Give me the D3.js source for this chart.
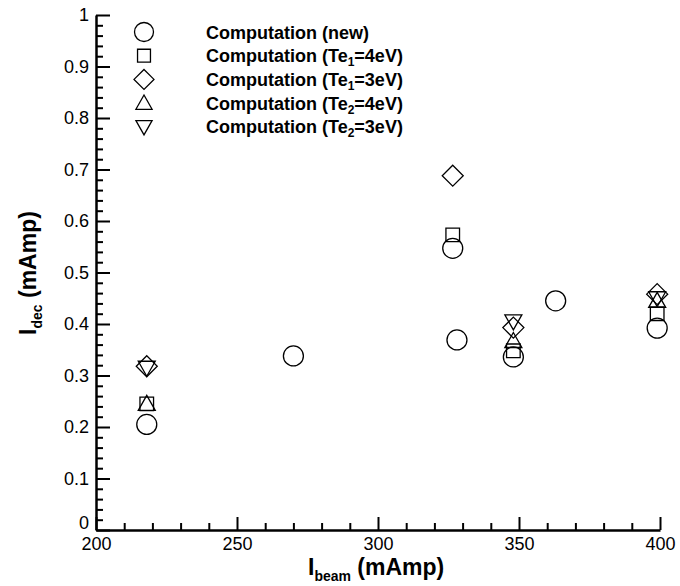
<!DOCTYPE html>
<html>
<head>
<meta charset="utf-8">
<script src="https://cdn.jsdelivr.net/npm/d3@7"></script>
<style>
  body { margin: 0; background: #fff; }
  svg { display: block; font-family: "Liberation Sans", Arial, sans-serif; }
</style>
</head>
<body>
<div id="chart"></div>
<script>
// data (x = I_beam mAmp, y = I_dec mAmp)
var newX   = [218, 270, 326.5, 328, 348, 363, 399];
var newY   = [0.205, 0.338, 0.547, 0.369, 0.336, 0.445, 0.392];
var te1_4X = [218, 326.5, 348, 399];
var te1_4Y = [0.245, 0.573, 0.348, 0.42];
var te1_3X = [218, 326.5, 348, 399];
var te1_3Y = [0.318, 0.688, 0.393, 0.458];
var te2_4X = [218, 348, 399];
var te2_4Y = [0.245, 0.367, 0.445];
var te2_3X = [218, 348, 399];
var te2_3Y = [0.315, 0.405, 0.45];

var xTicks = [200, 250, 300, 350, 400];
var yTicks = [0, 0.1, 0.2, 0.3, 0.4, 0.5, 0.6, 0.7, 0.8, 0.9, 1];
var yTickLabels = ['0', '0.1', '0.2', '0.3', '0.4', '0.5', '0.6', '0.7', '0.8', '0.9', '1'];

var width = 680, height = 586;
var svg = d3.select('#chart').append('svg').attr('width', width).attr('height', height);

var x = d3.scaleLinear().domain([200, 400]).range([96, 660]);
var y = d3.scaleLinear().domain([0, 1]).range([530, 15]);

// marker shapes, r ~ half size
var shapes = {
  circle: function(r){ var p = d3.path(); p.arc(0, 0, r, 0, 2 * Math.PI); return p.toString(); },
  square: function(r){ r = r * 0.68; return 'M' + (-r) + ',' + (-r) + 'H' + r + 'V' + r + 'H' + (-r) + 'Z'; },
  diamond: function(r){ r = r * 1.05; return 'M0,' + (-r) + 'L' + r + ',0L0,' + r + 'L' + (-r) + ',0Z'; },
  up: function(r){ var w = r * 0.85; return 'M0,' + (-r * 0.85) + 'L' + w + ',' + (r * 0.65) + 'H' + (-w) + 'Z'; },
  down: function(r){ var w = r * 0.85; return 'M0,' + (r * 0.85) + 'L' + w + ',' + (-r * 0.65) + 'H' + (-w) + 'Z'; }
};

var series = [
  {name: 'new', xs: newX, ys: newY, shape: 'circle', label: [['Computation (new)', '']]},
  {name: 'te1_4', xs: te1_4X, ys: te1_4Y, shape: 'square', label: [['Computation (Te', ''], ['1', 'sub'], ['=4eV)', '']]},
  {name: 'te1_3', xs: te1_3X, ys: te1_3Y, shape: 'diamond', label: [['Computation (Te', ''], ['1', 'sub'], ['=3eV)', '']]},
  {name: 'te2_4', xs: te2_4X, ys: te2_4Y, shape: 'up', label: [['Computation (Te', ''], ['2', 'sub'], ['=4eV)', '']]},
  {name: 'te2_3', xs: te2_3X, ys: te2_3Y, shape: 'down', label: [['Computation (Te', ''], ['2', 'sub'], ['=3eV)', '']]}
];

// axes: ticks point inward
var xAxis = d3.axisBottom(x).tickValues(xTicks).tickSizeInner(-13).tickSizeOuter(0).tickPadding(7);
var yAxis = d3.axisLeft(y).tickValues(yTicks).tickSizeInner(-14).tickSizeOuter(0).tickPadding(7)
  .tickFormat(function(d, i){ return yTickLabels[i]; });

var xMinor = d3.range(200, 401, 10).filter(function(d){ return d % 50 !== 0; });
var yMinor = d3.range(0, 51).map(function(i){ return i * 0.02; }).filter(function(d){ return Math.round(d * 100) % 10 !== 0; });

var gx = svg.append('g').attr('transform', 'translate(0,' + y(0) + ')').call(xAxis);
var gy = svg.append('g').attr('transform', 'translate(' + x(200) + ',0)').call(yAxis);

svg.append('g').attr('transform', 'translate(0,' + y(0) + ')')
  .call(d3.axisBottom(x).tickValues(xMinor).tickSizeInner(-7).tickSizeOuter(0).tickFormat(''))
  .select('.domain').remove();
svg.append('g').attr('transform', 'translate(' + x(200) + ',0)')
  .call(d3.axisLeft(y).tickValues(yMinor).tickSizeInner(-7).tickSizeOuter(0).tickFormat(''))
  .select('.domain').remove();

svg.selectAll('.domain').attr('stroke', '#000').attr('stroke-width', 2.5);
svg.selectAll('.tick line').attr('stroke', '#000').attr('stroke-width', 2);
svg.selectAll('.tick text').attr('fill', '#000').style('font-size', '18px').style('font-family', '"Liberation Sans", Arial, sans-serif');
// nudge the "0" label up like the original
gy.selectAll('.tick text').filter(function(d){ return d === 0; }).attr('dy', '-0.1em');

// axis titles
var xt = svg.append('text').attr('x', 308).attr('y', 575)
  .style('font-size', '23px').style('font-weight', 'bold');
xt.append('tspan').text('I');
xt.append('tspan').attr('dy', 6).style('font-size', '14px').text('beam');
xt.append('tspan').attr('dy', -6).text(' (mAmp)');

var yt = svg.append('text').attr('transform', 'translate(36,273) rotate(-90)')
  .attr('text-anchor', 'middle').style('font-size', '23px').style('font-weight', 'bold');
yt.append('tspan').text('I');
yt.append('tspan').attr('dy', 6).style('font-size', '14px').text('dec');
yt.append('tspan').attr('dy', -6).text(' (mAmp)');

// markers
var plot = svg.append('g');
series.forEach(function(s){
  plot.selectAll('.m-' + s.name)
    .data(s.xs.map(function(v, i){ return [v, s.ys[i]]; }))
    .enter().append('path')
    .attr('class', 'm-' + s.name)
    .attr('transform', function(d){ return 'translate(' + x(d[0]) + ',' + y(d[1]) + ')'; })
    .attr('d', shapes[s.shape](10))
    .attr('fill', 'none').attr('stroke', '#000').attr('stroke-width', 1.3);
});

// legend
var legend = svg.append('g');
series.forEach(function(s, i){
  var ly = 32 + i * 23.7;
  legend.append('path').attr('transform', 'translate(144,' + ly + ')')
    .attr('d', shapes[s.shape](9.5))
    .attr('fill', 'none').attr('stroke', '#000').attr('stroke-width', 1.3);
  var t = legend.append('text').attr('x', 206).attr('y', ly + 6.5)
    .style('font-size', '18px').style('font-weight', 'bold');
  s.label.forEach(function(part){
    if (part[1] === 'sub') {
      t.append('tspan').attr('dy', 4).style('font-size', '12px').text(part[0]);
    } else {
      var sp = t.append('tspan').text(part[0]);
      if (t.selectAll('tspan').size() > 1) sp.attr('dy', -4);
    }
  });
});
</script>
</body>
</html>
